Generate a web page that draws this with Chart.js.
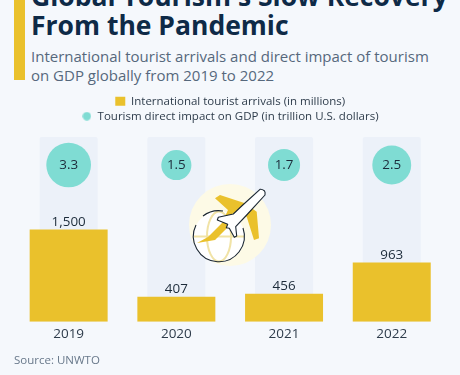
<!DOCTYPE html>
<html>
<head>
<meta charset="utf-8">
<style>
  html, body { margin: 0; padding: 0; }
  body { width: 460px; height: 375px; background: #f5f8fc; overflow: hidden; position: relative; font-family: "Open Sans", sans-serif; }
  #accent { position: absolute; left: 14px; top: 0; width: 11px; height: 80px; background: #eac12c; }
  #title { position: absolute; left: 31px; top: -18px; font-size: 26.5px; line-height: 29px; font-weight: 700; color: #0e2a47; white-space: nowrap; }
  #subtitle { position: absolute; left: 31px; top: 47px; font-size: 15px; line-height: 18.5px; color: #56687c; white-space: nowrap; }
  #source { position: absolute; left: 14px; top: 352px; font-size: 11.5px; color: #68788a; }
  #wrap { position: absolute; left: -1.5px; top: 92px; width: 460px; height: 246px; }
  #icon { position: absolute; left: 0; top: 0; }
</style>
</head>
<body>
<div id="accent"></div>
<div id="title">Global Tourism's Slow Recovery<br>From the Pandemic</div>
<div id="subtitle">International tourist arrivals and direct impact of tourism<br>on GDP globally from 2019 to 2022</div>
<div id="wrap"><canvas id="chart"></canvas></div>
<svg id="icon" width="460" height="375" viewBox="0 0 460 375">
  <circle cx="230" cy="225" r="41" fill="#fdfae6"/>
  <circle cx="219" cy="236.5" r="25.5" fill="#fff"/>
  <g fill="none" stroke="#f1e3a6" stroke-width="2">
    <ellipse cx="219" cy="236.5" rx="12" ry="25"/>
    <path d="M194 236.5 H244"/>
  </g>
  <path d="M215 198.3 L220 195 L245 203.3 L256.7 211.7 L259 238.3 L254 240 L246.7 216.7 L233 213 L228 227 L215 240 L197 243 L208 237 L222 223 L228 210 Z" fill="#eac12c"/>
  <path d="M196 225 A25.5 25.5 0 1 0 243 228 M203 216 A25.5 25.5 0 0 1 223 211" fill="none" stroke="#1b2733" stroke-width="1.1"/>
  <path d="M264.3 190.7 Q262 189 260 189.3 L241.7 206 L233.3 214 L218.3 217.3 L217.3 220 L227.7 224.3 L226.3 227.7 L229.3 228.3 L234.3 237.3 L236.7 236 L235.7 226.7 L246.7 215 L265 195 Q265.5 192 264.3 190.7 Z" fill="#fff" stroke="#1b2733" stroke-width="1.1" stroke-linejoin="round"/>
</svg>
<div id="source">Source: UNWTO</div>
<script src="https://cdn.jsdelivr.net/npm/chart.js@4/dist/chart.umd.min.js"></script>
<script>
const years = ["2019", "2020", "2021", "2022"]
const arrivals = [1500, 407, 456, 963]
const gdpImpact = [3.3, 1.5, 1.7, 2.5]
const trackTop = [3000, 3000, 3000, 3000]
const bubbleRow = [2545, 2545, 2545, 2545]

// bubbles sit well inside the plot, so they don't need the extra padding chart.js reserves
Chart.registry.getController("bubble").prototype.getMaxOverflow = () => false

const legendGap = {
  id: "legendGap",
  beforeInit(chart) {
    const fit = chart.legend.fit
    chart.legend.fit = function () {
      fit.call(this)
      this.height += 5
    }
  },
}

// the built-in circle comes out bigger than the square, so the circle swatch is a small canvas
function circleSwatch(color) {
  const c = document.createElement("canvas")
  c.width = 9
  c.height = 9
  const g = c.getContext("2d")
  g.fillStyle = color
  g.arc(4.5, 4.5, 4.2, 0, Math.PI * 2)
  g.fill()
  return c
}

const valueLabels = {
  id: "valueLabels",
  afterDatasetsDraw(chart) {
    const { ctx, scales } = chart
    ctx.save()
    ctx.fillStyle = "#1c2b3a"
    ctx.textAlign = "center"
    ctx.font = "13.4px 'Open Sans', sans-serif"
    arrivals.forEach((v, i) => {
      ctx.textBaseline = "bottom"
      ctx.fillText(v.toLocaleString("en-US"), scales.x.getPixelForValue(i), scales.y.getPixelForValue(v) - 1)
    })
    gdpImpact.forEach((v, i) => {
      ctx.textBaseline = "middle"
      ctx.fillText(v.toFixed(1), scales.x.getPixelForValue(i), scales.y.getPixelForValue(bubbleRow[i]))
    })
    ctx.restore()
  },
}

new Chart(document.getElementById("chart"), {
  data: {
    labels: years,
    datasets: [
      {
        type: "bubble",
        label: "Tourism direct impact on GDP (in trillion U.S. dollars)",
        data: years.map((y, i) => ({ x: y, y: bubbleRow[i], v: gdpImpact[i] })),
        backgroundColor: "#7fdcd3",
        borderWidth: 0,
        radius: (c) => 12.3 * Math.sqrt(c.raw.v),
        hoverRadius: (c) => 12.3 * Math.sqrt(c.raw.v),
        order: 1,
      },
      {
        type: "bar",
        label: "International tourist arrivals (in millions)",
        data: arrivals,
        backgroundColor: "#eac12c",
        barPercentage: 0.724,
        categoryPercentage: 1,
        grouped: false,
        order: 2,
      },
      {
        type: "bar",
        label: "track",
        data: trackTop,
        backgroundColor: "#ecf1f9",
        barPercentage: 0.539,
        categoryPercentage: 1,
        grouped: false,
        borderRadius: 2,
        borderSkipped: false,
        order: 3,
      },
    ],
  },
  options: {
    responsive: true,
    maintainAspectRatio: false,
    animation: false,
    layout: { padding: { left: 15.8, right: 13.4, top: 0, bottom: 0 } },
    plugins: {
      tooltip: { enabled: false },
      legend: {
        reverse: true,
        labels: {
          usePointStyle: true,
          pointStyleWidth: 10,
          boxHeight: 9,
          padding: 3.5,
          color: "#2e3c4b",
          font: { family: "'Open Sans', sans-serif", size: 11.5 },
          generateLabels(chart) {
            return chart.data.datasets.slice(0, 2).map((d, i) => ({
              text: d.label,
              datasetIndex: i,
              fillStyle: d.backgroundColor,
              lineWidth: 0,
              strokeStyle: "transparent",
              pointStyle: d.type === "bar" ? "rect" : circleSwatch(d.backgroundColor),
              fontColor: "#2e3c4b",
            }))
          },
        },
      },
    },
    scales: {
      x: {
        type: "category",
        offset: true,
        grid: { display: false },
        border: { display: false },
        ticks: { color: "#2e3c4b", padding: -4, font: { family: "'Open Sans', sans-serif", size: 13.5 } },
      },
      y: { display: false, min: 0, max: 3000 },
    },
  },
  plugins: [valueLabels, legendGap],
})
</script>
</body>
</html>
